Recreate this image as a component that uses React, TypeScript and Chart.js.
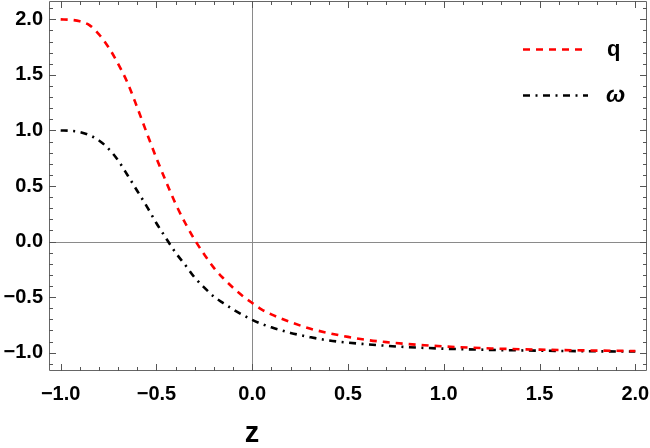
import { useEffect, useRef } from "react";
import { Chart, registerables } from "chart.js";

Chart.register(...registerables);

const zValues = [
  -1.0, -0.95, -0.9, -0.85, -0.8, -0.75, -0.7, -0.65, -0.6, -0.55, -0.5, -0.45, -0.4, -0.35, -0.3,
  -0.25, -0.2, -0.15, -0.1, -0.05, 0.0, 0.05, 0.1, 0.15, 0.2, 0.3, 0.4, 0.5, 0.6, 0.7, 0.8, 0.9,
  1.0, 1.25, 1.5, 1.75, 2.0,
];
const qValues = [
  2.0, 1.996, 1.982, 1.948, 1.865, 1.748, 1.6, 1.425, 1.205, 0.975, 0.75, 0.54, 0.34, 0.167, 0.015,
  -0.117, -0.237, -0.332, -0.416, -0.49, -0.553, -0.612, -0.655, -0.692, -0.725, -0.783, -0.824,
  -0.858, -0.886, -0.905, -0.921, -0.933, -0.944, -0.962, -0.973, -0.98, -0.985,
];
const omegaValues = [
  1.0, 0.997, 0.986, 0.957, 0.91, 0.835, 0.73, 0.595, 0.455, 0.315, 0.165, 0.03, -0.1, -0.21,
  -0.325, -0.415, -0.495, -0.555, -0.61, -0.66, -0.705, -0.742, -0.772, -0.798, -0.822, -0.86,
  -0.89, -0.91, -0.925, -0.938, -0.949, -0.957, -0.964, -0.975, -0.982, -0.987, -0.99,
];
const xTickValues = [-1.0, -0.5, 0.0, 0.5, 1.0, 1.5, 2.0];
const yTickValues = [-1.0, -0.5, 0.0, 0.5, 1.0, 1.5, 2.0];
const seriesLabels = ["q", "ω"];
const axisTitle = "z";

const FONT = "'Liberation Sans', Arial, sans-serif";

function fmt(v: number): string {
  const r = Math.round(v * 10) / 10;
  return (r < 0 ? "\u2212" : "") + Math.abs(r).toFixed(1);
}

export default function App() {
  const ref = useRef<HTMLCanvasElement>(null);

  useEffect(() => {
    document.body.style.margin = "0";
    const canvas = ref.current!;

    const framePlugin = {
      id: "mmaFrame",
      beforeDatasetsDraw(chart: any) {
        const { ctx, chartArea: a, scales } = chart;
        const x0 = Math.round(scales.x.getPixelForValue(0)) + 0.5;
        const y0 = Math.round(scales.y.getPixelForValue(0)) + 0.5;
        ctx.save();
        ctx.strokeStyle = "#8a8a8a";
        ctx.lineWidth = 1;
        ctx.beginPath();
        ctx.moveTo(x0, a.top);
        ctx.lineTo(x0, a.bottom);
        ctx.moveTo(a.left, y0);
        ctx.lineTo(a.right, y0);
        ctx.stroke();
        ctx.restore();
      },
      afterDatasetsDraw(chart: any) {
        const { ctx, chartArea: a, scales } = chart;
        ctx.save();
        ctx.strokeStyle = "#666666";
        ctx.lineWidth = 1;
        ctx.beginPath();
        ctx.rect(a.left + 0.5, a.top + 0.5, a.right - a.left - 1, a.bottom - a.top - 1);
        ctx.stroke();
        ctx.strokeStyle = "#555555";
        ctx.beginPath();
        for (let i = -10; i <= 20; i++) {
          const v = i / 10;
          const len = i % 5 === 0 ? 7 : 4;
          const px = Math.round(scales.x.getPixelForValue(v)) + 0.5;
          if (px < a.left || px > a.right) continue;
          ctx.moveTo(px, a.bottom);
          ctx.lineTo(px, a.bottom - len);
          ctx.moveTo(px, a.top);
          ctx.lineTo(px, a.top + len);
        }
        for (let i = -11; i <= 21; i++) {
          const v = i / 10;
          const len = i % 5 === 0 ? 7 : 4;
          const py = Math.round(scales.y.getPixelForValue(v)) + 0.5;
          if (py < a.top || py > a.bottom) continue;
          ctx.moveTo(a.left, py);
          ctx.lineTo(a.left + len, py);
          ctx.moveTo(a.right, py);
          ctx.lineTo(a.right - len, py);
        }
        ctx.stroke();
        ctx.restore();
      },
      afterDraw(chart: any) {
        const { ctx, chartArea: a } = chart;
        ctx.save();
        // legend
        const lx0 = a.right - 124;
        const lx1 = a.right - 59;
        ctx.lineWidth = 2.6;
        ctx.strokeStyle = "#ff0000";
        ctx.setLineDash([7, 6]);
        ctx.beginPath();
        ctx.moveTo(lx0, 49.5);
        ctx.lineTo(lx1, 49.5);
        ctx.stroke();
        ctx.strokeStyle = "#000000";
        ctx.setLineDash([7, 5.5, 2, 5.5]);
        ctx.beginPath();
        ctx.moveTo(lx0, 95.5);
        ctx.lineTo(lx1, 95.5);
        ctx.stroke();
        ctx.setLineDash([]);
        ctx.fillStyle = "#000";
        ctx.textAlign = "left";
        ctx.textBaseline = "alphabetic";
        ctx.font = `bold 22px ${FONT}`;
        ctx.fillText(seriesLabels[0], a.right - 40, 56);
        ctx.font = `italic bold 23px ${FONT}`;
        ctx.fillText(seriesLabels[1], a.right - 41, 102);
        // axis title
        ctx.font = `bold 29px ${FONT}`;
        ctx.textAlign = "center";
        ctx.fillText(axisTitle, 252, 442);
        ctx.restore();
      },
    };

    const tickFont = { family: FONT, size: 20, weight: "bold" as const };

    const chart = new Chart(canvas, {
      type: "line",
      data: {
        datasets: [
          {
            label: seriesLabels[0],
            data: zValues.map((z, i) => ({ x: z, y: qValues[i] })),
            borderColor: "#ff0000",
            borderWidth: 2.6,
            borderDash: [7, 6],
            pointRadius: 0,
            cubicInterpolationMode: "monotone",
            fill: false,
          },
          {
            label: seriesLabels[1],
            data: zValues.map((z, i) => ({ x: z, y: omegaValues[i] })),
            borderColor: "#000000",
            borderWidth: 2.6,
            borderDash: [7, 5.5, 2, 5.5],
            pointRadius: 0,
            cubicInterpolationMode: "monotone",
            fill: false,
          },
        ],
      },
      options: {
        animation: false,
        responsive: false,
        devicePixelRatio: 1,
        layout: { padding: { top: 1, right: 3, left: 0, bottom: 0 } },
        plugins: { legend: { display: false }, tooltip: { enabled: false } },
        scales: {
          x: {
            type: "linear",
            min: -1.061,
            max: 2.061,
            afterBuildTicks: (s: any) => {
              s.ticks = xTickValues.map((v) => ({ value: v }));
            },
            afterFit: (s: any) => {
              s.height = 77;
              s.paddingLeft = 0;
              s.paddingRight = 0;
            },
            grid: { display: false, drawTicks: false },
            border: { display: false },
            ticks: {
              font: tickFont,
              color: "#000",
              padding: 11,
              maxRotation: 0,
              autoSkip: false,
              callback: (v: any) => fmt(Number(v)),
            },
          },
          y: {
            type: "linear",
            min: -1.165,
            max: 2.165,
            afterBuildTicks: (s: any) => {
              s.ticks = yTickValues.map((v) => ({ value: v }));
            },
            afterFit: (s: any) => {
              s.width = 49;
              s.paddingTop = 0;
              s.paddingBottom = 0;
            },
            grid: { display: false, drawTicks: false },
            border: { display: false },
            ticks: {
              font: tickFont,
              color: "#000",
              padding: 6,
              autoSkip: false,
              callback: (v: any) => fmt(Number(v)),
            },
          },
        },
      },
      plugins: [framePlugin],
    });

    return () => chart.destroy();
  }, []);

  return (
    <canvas
      ref={ref}
      width={650}
      height={448}
      style={{ display: "block", width: 650, height: 448 }}
    />
  );
}
